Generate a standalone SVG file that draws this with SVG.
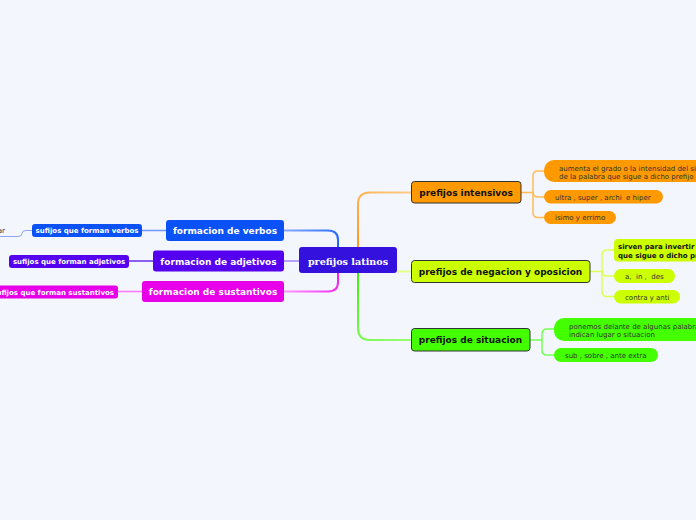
<svg xmlns="http://www.w3.org/2000/svg" width="696" height="520" viewBox="0 0 696 520">
<defs>
<style>
.main{font-family:"DejaVu Sans",Verdana,sans-serif;font-weight:bold;font-size:9px}
.sub{font-family:"DejaVu Sans",Verdana,sans-serif;font-size:7px;fill:#333}
.subb{font-family:"DejaVu Sans",Verdana,sans-serif;font-size:7px;font-weight:bold}
.w{fill:#fff}
.k{fill:#111}
.c{fill:none;stroke-linecap:round;stroke-linejoin:round}
.rn{stroke:#333;stroke-width:1}
</style>
<linearGradient id="gO" gradientUnits="userSpaceOnUse" x1="358" y1="247" x2="411" y2="192"><stop offset="0" stop-color="#ff9922"/><stop offset="1" stop-color="#ffcc88"/></linearGradient>
<linearGradient id="gG" gradientUnits="userSpaceOnUse" x1="358" y1="273" x2="411" y2="340"><stop offset="0" stop-color="#44ee11"/><stop offset="1" stop-color="#99ff77"/></linearGradient>
<linearGradient id="gB" gradientUnits="userSpaceOnUse" x1="338" y1="247" x2="284" y2="230"><stop offset="0" stop-color="#2266ff"/><stop offset="1" stop-color="#88aaff"/></linearGradient>
<linearGradient id="gM" gradientUnits="userSpaceOnUse" x1="338" y1="273" x2="284" y2="291"><stop offset="0" stop-color="#ee22ee"/><stop offset="1" stop-color="#ff99ff"/></linearGradient>
</defs>
<rect width="696" height="520" fill="#f3f6fd"/>
<g id="connectors">
<path class="c" d="M358,247 V204 Q358,192.5 370,192.5 H411" stroke="url(#gO)" stroke-width="2"/>
<path class="c" d="M358,273 V328 Q358,340 370,340 H411" stroke="url(#gG)" stroke-width="2"/>
<path class="c" d="M397,271.5 H411" stroke="#e4ff88" stroke-width="2"/>
<path class="c" d="M284,230.5 H328 Q338,230.5 338,240 V247" stroke="url(#gB)" stroke-width="2"/>
<path class="c" d="M284,261 H299" stroke="#b4a0ff" stroke-width="2"/>
<path class="c" d="M338,273 V282 Q338,291.5 328,291.5 H284" stroke="url(#gM)" stroke-width="2"/>
<path class="c" d="M166,230.5 H142" stroke="#6f95ff" stroke-width="1.5"/>
<path class="c" d="M153,261 H129" stroke="#6a2ee8" stroke-width="1.5"/>
<path class="c" d="M142,291.5 H118" stroke="#ff77ff" stroke-width="1.5"/>
<path class="c" d="M32,230.5 H26 Q22,230.5 22,233.5 Q22,236.5 18,236.5 H-2" stroke="#8fa6ee" stroke-width="1"/>
<g stroke="#ffbb55" stroke-width="1.5" class="c">
<path d="M521,192.5 H533"/>
<path d="M533,192.5 V176 Q533,171 538,171 H544"/>
<path d="M533,192.5 V192 Q533,197 538,197 H544"/>
<path d="M533,192.5 V212.5 Q533,217.5 538,217.5 H544"/>
</g>
<g stroke="#ddff55" stroke-width="1.5" class="c">
<path d="M590,271.5 H602"/>
<path d="M602,271.5 V255 Q602,250 607,250 H614"/>
<path d="M602,271.5 V271 Q602,276 607,276 H614"/>
<path d="M602,271.5 V291.5 Q602,296.5 607,296.5 H614"/>
</g>
<g stroke="#77ff55" stroke-width="1.5" class="c">
<path d="M530,340 H542"/>
<path d="M542,340 V334 Q542,329 547,329 H554"/>
<path d="M542,340 V350 Q542,355 547,355 H554"/>
</g>
</g>
<g id="center">
<rect x="299" y="247" width="98" height="26" rx="3" fill="#3411dc"/>
<text x="348" y="264.5" text-anchor="middle" font-family="'DejaVu Serif','Liberation Serif',serif" font-weight="bold" font-size="9.6" fill="#fff">prefijos latinos</text>
</g>
<g id="n-intensivos">
<rect class="rn" x="411.5" y="181.5" width="109.5" height="21.5" rx="3" fill="#ff9900"/>
<text class="main k" x="466" y="195.5" text-anchor="middle">prefijos intensivos</text>
</g>
<g id="n-negacion">
<rect class="rn" x="411.5" y="260.5" width="178.5" height="22" rx="3" fill="#ccff00"/>
<text class="main k" x="500.5" y="274.8" text-anchor="middle">prefijos de negacion y oposicion</text>
</g>
<g id="n-situacion">
<rect class="rn" x="411.5" y="328.5" width="118.5" height="22.5" rx="3" fill="#44ff00"/>
<text class="main k" x="470.5" y="343" text-anchor="middle">prefijos de situacion</text>
</g>
<g id="n-verbos">
<rect x="166" y="220" width="118" height="21" rx="3" fill="#0a52f6"/>
<text class="main w" x="225" y="234" text-anchor="middle">formacion de verbos</text>
</g>
<g id="n-adjetivos">
<rect x="153" y="250.5" width="131" height="21" rx="3" fill="#5500ee"/>
<text class="main w" x="218.5" y="264.5" text-anchor="middle">formacion de adjetivos</text>
</g>
<g id="n-sustantivos">
<rect x="142" y="281" width="142" height="21" rx="3" fill="#e800e8"/>
<text class="main w" x="213" y="295" text-anchor="middle">formacion de sustantivos</text>
</g>
<g id="s-verbos">
<rect x="32" y="224" width="110" height="13" rx="3" fill="#0a52f6"/>
<text class="subb w" x="87" y="233" text-anchor="middle">sufijos que forman verbos</text>
</g>
<g id="s-verbos-child">
<text class="sub" x="5" y="233" text-anchor="end" fill="#444">ar</text>
</g>
<g id="s-adjetivos">
<rect x="9" y="255" width="120" height="13" rx="3" fill="#5500ee"/>
<text class="subb w" x="69" y="264" text-anchor="middle">sufijos que forman adjetivos</text>
</g>
<g id="s-sustantivos">
<rect x="-12" y="285.5" width="130" height="13" rx="3" fill="#e800e8"/>
<text class="subb w" x="114" y="294.5" text-anchor="end">sufijos que forman sustantivos</text>
</g>
<g id="i1">
<rect x="544" y="160" width="170" height="22" rx="10" fill="#ff9900"/>
<text class="sub" x="559" y="170.5">aumenta el grado o la intensidad del si</text>
<text class="sub" x="559" y="178.8">de la palabra que sigue a dicho prefijo</text>
</g>
<g id="i2">
<rect x="544" y="190" width="119" height="13.5" rx="6.75" fill="#ff9900"/>
<text class="sub" x="555" y="199.5" xml:space="preserve">ultra , super , archi  e hiper</text>
</g>
<g id="i3">
<rect x="544" y="211" width="72" height="13" rx="6.5" fill="#ff9900"/>
<text class="sub" x="555" y="220">isimo y errimo</text>
</g>
<g id="ng1">
<rect x="614" y="239" width="100" height="22.5" rx="4" fill="#ccff00"/>
<text class="subb k" x="618" y="248.5">sirven para invertir</text>
<text class="subb k" x="618" y="257.5">que sigue o dicho pr</text>
</g>
<g id="ng2">
<rect x="614" y="269" width="61" height="14" rx="7" fill="#ccff00"/>
<text class="sub" x="625" y="278.5" xml:space="preserve">a,  in ,  des</text>
</g>
<g id="ng3">
<rect x="614" y="290" width="66" height="13.5" rx="6.75" fill="#ccff00"/>
<text class="sub" x="625" y="299.5">contra y anti</text>
</g>
<g id="st1">
<rect x="554" y="318" width="160" height="23" rx="10" fill="#44ff00"/>
<text class="sub" x="569" y="328.5">ponemos delante de algunas palabra</text>
<text class="sub" x="569" y="336.8">indican lugar o situacion</text>
</g>
<g id="st2">
<rect x="554" y="348" width="104" height="14" rx="7" fill="#44ff00"/>
<text class="sub" x="565" y="357.5">sub , sobre , ante extra</text>
</g>
</svg>
